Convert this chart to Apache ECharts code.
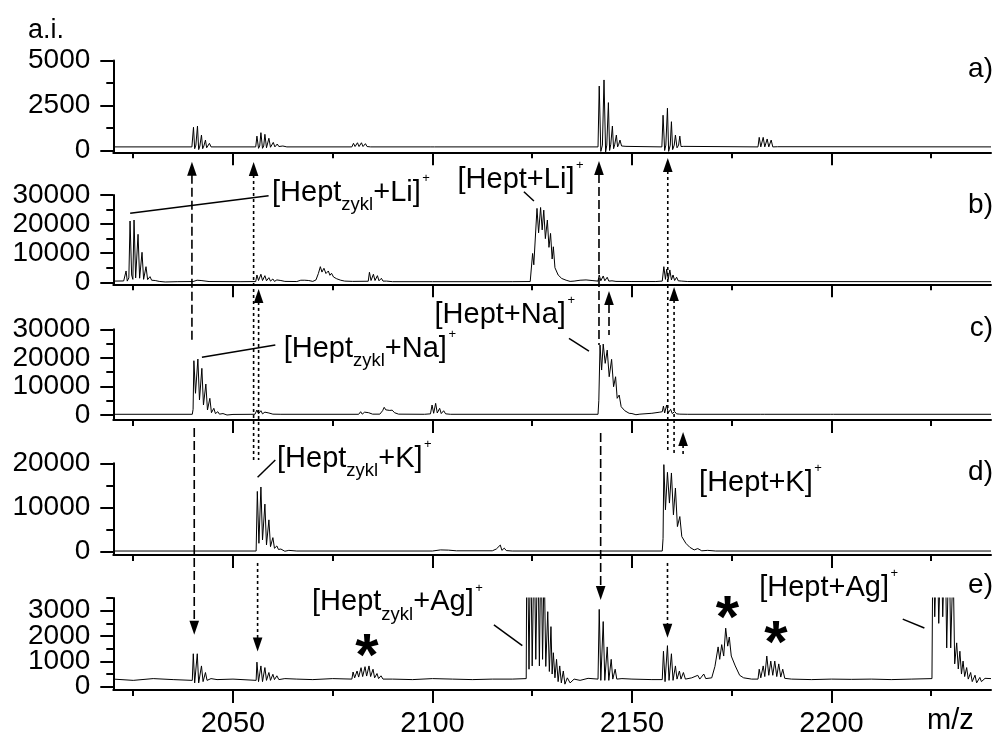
<!DOCTYPE html>
<html><head><meta charset="utf-8">
<script src="https://cdn.jsdelivr.net/npm/echarts@6/dist/echarts.min.js"></script>
<style>html,body{margin:0;padding:0;background:#fff}#c{width:1003px;height:738px}</style>
</head><body><div id="c"></div>
<script>
// ---------------- DATA ----------------
const MZ_MIN = 2020, MZ_MAX = 2240;
const xMajor = [2050, 2100, 2150, 2200];
const xMinor = [2025, 2075, 2125, 2175, 2225];
const panelTags = ['a)', 'b)', 'c)', 'd)', 'e)'];
const yMin = [-100, -700, -1750, -750, -130];
const yMax = [5000, 30000, 30000, 20000, 3500];
const yMajor = [[0,2500,5000],[0,10000,20000,30000],[0,10000,20000,30000],[0,10000,20000],[0,1000,2000,3000]];
const yMinor = [[1250,3750],[5000,15000,25000],[5000,15000,25000],[5000,15000],[500,1500,2500,3500]];

const specA = [[2020,200],[2039.7,200],[2039.9,180],[2040.1,1290],[2040.4,100],[2040.7,300],[2041.1,1360],[2041.4,50],[2041.7,250],[2042.1,860],[2042.4,100],[2042.7,250],[2043.1,580],[2043.4,150],[2043.7,250],[2044.1,400],[2044.5,200],[2045,230],[2046,200],
[2055.7,200],[2056.0,800],[2056.4,120],[2056.7,250],[2057.0,990],[2057.4,120],[2057.7,250],[2058.0,900],[2058.4,150],[2058.7,250],[2059.0,680],[2059.4,180],[2059.7,250],[2060.1,450],[2060.5,200],[2061.1,360],[2061.5,220],[2062.5,250],[2063.5,200],
[2079.8,200],[2080.2,400],[2080.6,220],[2081.2,430],[2081.6,220],[2082.2,430],[2082.6,220],[2083.2,380],[2083.6,220],[2084.5,200],[2099.6,200],[2100,300],[2100.5,200],
[2141.5,200],[2141.8,3580],[2142.2,-50],[2142.6,300],[2143.0,3920],[2143.4,-80],[2143.7,300],[2144.1,2660],[2144.4,0],[2144.7,350],[2145.1,1360],[2145.4,100],[2145.7,350],[2146.1,860],[2146.4,200],[2146.7,350],[2147.0,580],[2147.4,250],[2148.5,230],
[2157.5,200],[2157.8,1960],[2158.2,0],[2158.5,300],[2158.9,2350],[2159.2,-50],[2159.6,300],[2159.9,1600],[2160.2,50],[2160.6,300],[2160.9,860],[2161.3,150],[2161.7,300],[2162.0,800],[2162.3,220],[2163,230],
[2181.6,200],[2181.9,730],[2182.3,200],[2182.9,730],[2183.3,200],[2183.9,640],[2184.3,200],[2184.9,580],[2185.3,200],[2186.5,210],[2240,200]];

const specB = [[2020,400],[2022.6,450],[2023.0,500],[2023.2,3880],[2023.5,400],[2023.9,1500],[2024.2,21060],[2024.6,2500],[2024.9,1000],[2025.2,21400],[2025.6,1500],[2025.9,1200],[2026.2,16490],[2026.6,1400],[2026.9,1300],[2027.2,10300],[2027.6,1000],[2027.9,900],[2028.2,5360],[2028.6,900],[2029.2,1930],[2029.6,700],[2030.5,600],[2031.5,300],[2033,100],[2036,200],
[2040,250],[2041,700],[2041.4,250],[2042,600],[2042.4,250],[2044,250],[2052,200],
[2055.7,250],[2056.0,2500],[2056.4,600],[2057.0,2750],[2057.4,600],[2058.0,2270],[2058.4,500],[2059.0,1580],[2059.4,400],[2060.0,1130],[2060.4,300],[2061,800],[2061.5,300],[2062,600],[2063,300],
[2066,250],[2067,700],[2067.4,250],[2068,700],[2068.4,250],[2069,600],[2070,300],[2070.8,800],[2071.4,3000],[2071.9,5360],[2072.3,3500],[2072.8,4810],[2073.3,3000],[2073.9,3880],[2074.3,2400],[2074.7,3090],[2075.2,1800],[2076,1200],[2077,700],[2078,400],[2080,300],
[2083.9,350],[2084.2,3430],[2084.6,600],[2085.2,2750],[2085.6,600],[2086.2,2270],[2086.6,500],[2087.2,1370],[2087.6,400],[2088.5,400],[2090,200],[2100,200],[2120,200],
[2124.5,250],[2124.9,400],[2125.1,9900],[2125.4,6000],[2126.2,25400],[2126.6,17000],[2127.1,25700],[2127.5,18000],[2127.9,24800],[2128.3,15000],[2128.8,21400],[2129.2,12000],[2129.6,16800],[2130.0,8000],[2130.3,12200],[2130.7,5000],[2131.1,5400],[2131.5,2500],[2132.0,2500],[2132.4,1300],[2132.8,1400],[2133.5,700],[2134.5,300],[2135.5,400],[2137,700],[2138.5,800],[2140,600],
[2141.5,400],[2141.8,2500],[2142.2,500],[2142.8,2160],[2143.2,500],[2143.8,1720],[2144.2,400],[2145,500],[2146,300],[2150,250],[2156,250],
[2157.6,400],[2158.0,5360],[2158.4,1000],[2158.7,4470],[2159.1,1000],[2159.5,4230],[2159.9,800],[2160.3,2500],[2160.7,600],[2161.2,1720],[2161.6,500],[2162.5,400],[2164,250],[2240,200]];

const specC = [[2020,250],[2039.8,250],[2040.0,2000],[2040.2,19000],[2040.6,7600],[2041.2,19580],[2041.6,5250],[2042.2,16330],[2042.6,3500],[2043.2,10840],[2043.6,1750],[2044.2,5840],[2044.6,800],[2045.2,2340],[2045.6,500],[2046.2,1150],[2046.6,300],[2047.5,500],[2048.5,0],[2050,200],
[2055.5,250],[2056.0,1750],[2056.4,400],[2057.0,1500],[2057.4,400],[2058,1000],[2058.4,300],[2059,700],[2060,300],[2062,250],
[2081.5,250],[2082,1150],[2082.4,300],[2083,1000],[2083.4,300],[2084,800],[2085,300],[2086.8,300],[2087.5,1500],[2087.9,2690],[2088.3,1800],[2088.8,2340],[2089.3,1600],[2089.9,1700],[2090.5,800],[2091.5,300],
[2098,250],[2099.5,400],[2099.9,3500],[2100.3,600],[2100.8,4090],[2101.2,700],[2101.8,2340],[2102.2,500],[2102.8,1490],[2103.3,400],[2104.5,250],
[2141.5,250],[2141.7,5000],[2142.0,24480],[2142.4,15740],[2142.8,24830],[2143.3,18080],[2143.8,22730],[2144.3,13390],[2144.9,19480],[2145.4,9900],[2145.9,13390],[2146.3,5840],[2146.8,6990],[2147.3,2900],[2147.8,3500],[2148.2,1500],[2148.7,1750],[2149.3,600],[2150,500],[2151,100],[2152,300],[2155,600],[2157,1000],
[2157.6,1150],[2157.9,3150],[2158.2,700],[2158.7,3500],[2159.1,700],[2159.7,2000],[2160.1,500],[2160.7,1200],[2161.2,400],[2162,300],[2164,250],
[2182.3,250],[2182.8,600],[2183.3,250],[2199.7,250],[2200.1,500],[2200.5,250],[2240,250]];

const specD = [[2020,150],[2055.8,150],[2056.1,13640],[2056.5,1900],[2057.0,14640],[2057.4,2660],[2058.0,10770],[2058.4,1520],[2059.0,7200],[2059.4,1140],[2060.0,3180],[2060.4,770],[2061.0,1300],[2061.4,500],[2062,600],[2063,100],[2064,300],[2066,150],
[2100,150],[2102,400],[2104,350],[2106,200],[2115,200],[2116,600],[2116.4,250],[2117,1500],[2117.4,300],[2118,800],[2118.5,250],[2120,150],
[2157.6,150],[2157.8,3000],[2158.0,19700],[2158.4,9480],[2158.9,17960],[2159.4,11000],[2159.9,17810],[2160.4,8340],[2160.9,14400],[2161.4,5680],[2162.0,7950],[2162.5,3410],[2163.0,3410],[2163.5,1910],[2164.0,1910],[2164.5,1000],[2165.0,1140],[2165.6,400],[2166.5,700],[2167.5,200],[2169,300],[2171,150],[2240,150]];

const specE = [[2020,300],[2025,250],[2030,320],[2035,280],[2039.8,250],[2040.05,1300],[2040.4,150],[2041.05,1300],[2041.4,150],[2042.1,820],[2042.5,200],[2043.1,560],[2043.5,250],[2044.5,320],[2046,280],[2050,300],
[2055.8,250],[2056.0,970],[2056.4,200],[2057.0,820],[2057.4,200],[2058.0,755],[2058.4,250],[2059.0,560],[2059.4,250],[2060.0,490],[2060.4,280],[2061.0,430],[2061.5,280],[2063,320],[2066,300],[2070,280],[2075,320],
[2079.8,300],[2080.1,580],[2080.5,350],[2081.1,620],[2081.5,380],[2082.1,750],[2082.5,400],[2083.1,790],[2083.5,420],[2084.1,820],[2084.5,400],[2085.1,690],[2085.5,350],[2086.1,520],[2086.5,320],[2087.1,430],[2087.6,300],[2090,300],[2095,280],[2100,320],[2105,300],[2110,280],[2115,300],[2120,300],
[2123.5,320],[2123.6,4000],[2123.8,6000],[2124.2,690],[2124.6,6000],[2125.0,820],[2125.5,6000],[2125.9,1080],[2126.4,6000],[2126.8,820],[2127.2,6000],[2127.6,1080],[2128.0,5000],[2128.4,800],[2128.9,2960],[2129.3,600],[2129.7,2370],[2130.0,500],[2130.3,1340],[2130.7,350],[2131.1,1080],[2131.5,200],[2131.9,820],[2132.3,150],[2132.8,620],[2133.2,100],[2133.8,350],[2134.5,150],[2135.5,300],[2137,250],[2139,330],
[2141.5,300],[2141.8,3050],[2142.2,250],[2142.8,2570],[2143.2,250],[2143.8,1570],[2144.2,250],[2144.8,1080],[2145.2,300],[2145.8,690],[2146.2,300],[2147.5,320],[2150,300],[2155,280],
[2157.6,280],[2157.9,1400],[2158.3,200],[2158.9,1620],[2159.3,250],[2159.9,1300],[2160.3,250],[2160.9,820],[2161.3,300],[2161.9,620],[2162.3,300],[2162.9,560],[2163.4,300],[2165,350],[2166.5,450],[2167,300],[2168,500],[2168.5,320],[2170,350],
[2170.8,800],[2171.6,1570],[2172.0,1080],[2172.5,1660],[2173.0,1210],[2173.5,2310],[2174.0,1600],[2174.4,1960],[2174.9,1210],[2175.4,1210],[2175.9,820],[2176.4,840],[2177,450],[2178,350],[2180,300],
[2181.6,300],[2181.9,690],[2182.3,350],[2182.9,820],[2183.3,400],[2183.8,1210],[2184.3,450],[2184.8,1010],[2185.3,450],[2185.8,1010],[2186.3,400],[2186.8,900],[2187.3,380],[2187.8,690],[2188.3,330],[2190,300],[2195,280],[2200,300],[2205,290],[2210,300],[2215,280],[2220,300],
[2225.2,320],[2225.4,5000],[2225.5,6000],[2225.9,2760],[2226.5,6000],[2226.9,2500],[2227.5,6000],[2227.9,2760],[2228.5,6000],[2228.9,1530],[2229.5,6000],[2229.9,1530],[2230.5,5000],[2230.9,900],[2231.4,1730],[2231.8,700],[2232.2,1400],[2232.6,500],[2233.0,1010],[2233.4,400],[2233.9,755],[2234.3,300],[2234.9,560],[2235.3,200],[2236.0,455],[2236.4,150],[2237.2,366],[2237.6,200],[2238.5,330],[2240,320]];

const spectra = [specA, specB, specC, specD, specE];

// annotations (data coordinates of the panel they refer to)
const labels = [
 {panel:1, mz:2059.79, v:27250, main:'[Hept', sub:'zykl', rest:'+Li]'},
 {panel:1, mz:2106.29, v:31710, main:'[Hept+Li]', sub:'', rest:''},
 {panel:2, mz:2062.70, v:19500, main:'[Hept', sub:'zykl', rest:'+Na]'},
 {panel:2, mz:2100.51, v:31500, main:'[Hept+Na]', sub:'', rest:''},
 {panel:3, mz:2061.04, v:18640, main:'[Hept', sub:'zykl', rest:'+K]'},
 {panel:3, mz:2166.84, v:13210, main:'[Hept+K]', sub:'', rest:''},
 {panel:4, mz:2069.82, v:2922, main:'[Hept', sub:'zykl', rest:'+Ag]'},
 {panel:4, mz:2181.89, v:3483, main:'[Hept+Ag]', sub:'', rest:''}
];
const leaders = [
 {panel:1, mz1:2024.23, v1:23710, mz2:2058.93, v2:29760},
 {panel:1, mz1:2122.92, v1:31130, mz2:2125.43, v2:27930},
 {panel:2, mz1:2042.22, v1:20200, mz2:2060.61, v2:24500},
 {panel:2, mz1:2134.22, v1:26850, mz2:2139.23, v2:22400},
 {panel:3, mz1:2056.17, v1:16830, mz2:2060.61, v2:20740},
 {panel:4, mz1:2115.40, v1:2443, mz2:2122.52, v2:1625},
 {panel:4, mz1:2217.88, v1:2665, mz2:2223.30, v2:2314}
];
const arrows = [
 {mz:2039.71, p1:0, v1:-622, p2:2, v2:26250, head:'start', dash:'dash'},
 {mz:2040.29, p1:2, v1:-4550, p2:4, v2:2053, head:'end', dash:'dash'},
 {mz:2055.17, p1:0, v1:-639, p2:3, v2:20740, head:'start', dash:'dot'},
 {mz:2056.42, p1:1, v1:-2300, p2:3, v2:20740, head:'start', dash:'dot'},
 {mz:2056.17, p1:3, v1:-2556, p2:4, v2:1391, head:'end', dash:'dot'},
 {mz:2141.74, p1:0, v1:-583, p2:2, v2:24500, head:'start', dash:'dash'},
 {mz:2144.25, p1:1, v1:-2990, p2:2, v2:28000, head:'start', dash:'dash'},
 {mz:2142.16, p1:2, v1:-6300, p2:4, v2:3417, head:'end', dash:'dash'},
 {mz:2158.98, p1:0, v1:-417, p2:3, v2:22330, head:'start', dash:'dot'},
 {mz:2160.56, p1:1, v1:-1615, p2:3, v2:22330, head:'start', dash:'dot'},
 {mz:2162.82, p1:2, v1:-5950, p2:3, v2:21870, head:'start', dash:'dot'},
 {mz:2158.91, p1:3, v1:-2556, p2:4, v2:1936, head:'end', dash:'dot'}
];
const stars = [{mz:2083.60, v:1663},{mz:2173.96, v:3156},{mz:2186.08, v:2182}];
const tagValues = [3972, 23120, 26950, 15770, 3612];

// ---------------- CHART ----------------
const FONT = '"Liberation Sans", Arial, Helvetica, sans-serif';
const chart = echarts.init(document.getElementById('c'), null, {renderer:'canvas'});
const gridBoxes = [[60.5,91.8],[195,89.3],[329.3,90.7],[463.3,91.7],[598,93.2]];
const grid = gridBoxes.map(g => ({left:113.3, right:12, top:g[0], height:g[1]}));
const xAxis = [], yAxis = [], series = [];
const blk = {color:'#000', width:2};
const plain = v => String(v);
const yLabelStyle = {formatter:plain, hideOverlap:false, showMinLabel:true, showMaxLabel:true,
  color:'#000', fontSize:28, fontFamily:FONT, margin:23};
for (let i = 0; i < 5; i++) {
  // tick labels split over the two axes of the panel so that close labels are never dropped
  const labelsEven = yMajor[i].filter((_, k) => k % 2 === 0);
  const labelsOdd = yMajor[i].filter((_, k) => k % 2 === 1);
  xAxis.push({gridIndex:i, type:'value', min:MZ_MIN, max:MZ_MAX, position:'bottom',
    axisLine:{show:true, onZero:false, lineStyle:blk},
    axisTick:{show:true, inside:false, length:13, customValues:xMajor, lineStyle:blk},
    axisLabel:{show:i === 4, customValues:xMajor, formatter:plain, hideOverlap:false, color:'#000', fontSize:29, fontFamily:FONT, margin:19},
    splitLine:{show:false}});
  xAxis.push({gridIndex:i, type:'value', min:MZ_MIN, max:MZ_MAX, position:'bottom',
    axisLine:{show:false, onZero:false},
    axisTick:{show:true, inside:false, length:6, customValues:xMinor, lineStyle:blk},
    axisLabel:{show:false}, splitLine:{show:false}});
  yAxis.push({gridIndex:i, type:'value', min:yMin[i], max:yMax[i], position:'left',
    axisLine:{show:true, onZero:false, lineStyle:blk},
    axisTick:{show:true, inside:false, length:13, customValues:yMajor[i], lineStyle:blk},
    axisLabel:Object.assign({show:true, customValues:labelsEven}, yLabelStyle),
    splitLine:{show:false}});
  yAxis.push({gridIndex:i, type:'value', min:yMin[i], max:yMax[i], position:'left',
    axisLine:{show:false, onZero:false},
    axisTick:{show:true, inside:false, length:7, customValues:yMinor[i], lineStyle:blk},
    axisLabel:Object.assign({show:labelsOdd.length > 0, customValues:labelsOdd}, yLabelStyle),
    splitLine:{show:false}});
  series.push({type:'line', xAxisIndex:2*i, yAxisIndex:2*i, data:spectra[i], showSymbol:false, symbol:'none',
    lineStyle:{color:'#000', width:1}, clip:true, silent:true, animation:false});
}
chart.setOption({animation:false, backgroundColor:'#fff', grid, xAxis, yAxis, series});

// ---------------- ANNOTATIONS ----------------
const P = (panel, mz, v) => chart.convertToPixel({seriesIndex:panel}, [mz, v]);
const mctx = document.createElement('canvas').getContext('2d');
const tw = (t, size, bold) => { mctx.font = (bold ? 'bold ' : '') + size + 'px ' + FONT; return mctx.measureText(t).width; };
const gfx = [];
function txt(x, base, t, size, bold, align) {
  gfx.push({type:'text', x:x, y:base - 0.35*size, silent:true,
    style:{text:t, font:(bold ? 'bold ' : '') + size + 'px ' + FONT, fill:'#000', align:align || 'left', verticalAlign:'middle'}});
}
const MAIN = 29, SUB = 18.5, SUP = 13;
labels.forEach(l => {
  const [x0, y0] = P(l.panel, l.mz, l.v);
  let x = x0;
  txt(x, y0, l.main, MAIN); x += tw(l.main, MAIN);
  if (l.sub) { txt(x, y0 + 8.5, l.sub, SUB); x += tw(l.sub, SUB); }
  if (l.rest) { txt(x, y0, l.rest, MAIN); x += tw(l.rest, MAIN); }
  txt(x + 1.5, y0 - 20, '+', SUP);
});
leaders.forEach(l => {
  const [x1, y1] = P(l.panel, l.mz1, l.v1), [x2, y2] = P(l.panel, l.mz2, l.v2);
  gfx.push({type:'line', silent:true, shape:{x1, y1, x2, y2}, style:{stroke:'#000', lineWidth:1.5}});
});
const HL = 14, HW = 4.8;
arrows.forEach(a => {
  const [x, ya] = P(a.p1, a.mz, a.v1), [, yb] = P(a.p2, a.mz, a.v2);
  const dash = a.dash === 'dash' ? [9, 4] : [3, 3];
  let tip, y1, y2, dir;
  if (a.head === 'start') { tip = ya; dir = 1; y1 = ya + HL - 1; y2 = yb; }
  else { tip = yb; dir = -1; y1 = ya; y2 = yb - HL + 1; }
  gfx.push({type:'line', silent:true, shape:{x1:x, y1:y1, x2:x, y2:y2}, style:{stroke:'#000', lineWidth:1.6, lineDash:dash}});
  gfx.push({type:'polygon', silent:true, shape:{points:[[x, tip], [x - HW, tip + dir*HL], [x + HW, tip + dir*HL]]}, style:{fill:'#000'}});
});
stars.forEach(s => {
  const [x, y] = P(4, s.mz, s.v);
  gfx.push({type:'text', x:x, y:y + 14, silent:true, style:{text:'*', font:'bold 60px ' + FONT, fill:'#000', align:'center', verticalAlign:'middle'}});
});
panelTags.forEach((t, i) => { const [x, y] = P(i, 2240.5, tagValues[i]); txt(x, y, t, 28, false, 'right'); });
{ const [x, y] = P(0, 1998.6, 6139); txt(x, y, 'a.i.', 27); }
{ const [x, y] = P(4, 2223.98, -1765); txt(x, y, 'm/z', 29); }
chart.setOption({graphic:{elements:gfx}});
</script></body></html>
